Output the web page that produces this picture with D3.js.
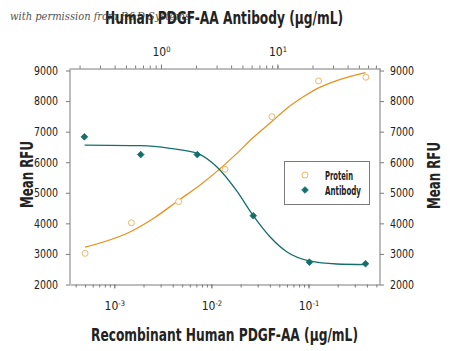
<!DOCTYPE html>
<html>
<head>
<meta charset="utf-8">
<script src="https://cdn.jsdelivr.net/npm/d3@7"></script>
<style>
  body { margin: 0; background: #fff; }
  svg { display: block; }
  .cond { font-family: "Liberation Sans Narrow", "DejaVu Sans Condensed", "Roboto", sans-serif; }
</style>
</head>
<body>
<script>
// protein dose (bottom axis, ug/mL) and mean RFU
var proteinConc = [0.0005, 0.0015, 0.0046, 0.0138, 0.042, 0.127, 0.39];
var proteinRFU = [3020, 4020, 4710, 5770, 7490, 8660, 8780];
// antibody dose (top axis, ug/mL) and mean RFU
var antibodyConc = [0.22, 0.67, 2.05, 6.2, 18.8, 57];
var antibodyRFU = [6830, 6250, 6250, 4250, 2730, 2680];
// fitted curves
var proteinFitConc = [0.0005, 0.00152, 0.00264, 0.00458, 0.00766, 0.0123, 0.0183, 0.0271, 0.0419, 0.0597, 0.0885, 0.127, 0.195, 0.387];
var proteinFitRFU = [3220, 3750, 4200, 4750, 5255, 5790, 6290, 6815, 7330, 7760, 8140, 8430, 8670, 8930];
var antibodyFitConc = [0.221, 0.67, 1.19, 2.05, 3.01, 4.47, 6.2, 8.62, 12.0, 18.8, 32.2, 57.1];
var antibodyFitRFU = [6560, 6540, 6455, 6290, 5850, 5060, 4250, 3560, 3070, 2770, 2670, 2650];
var yTicks = [2000, 3000, 4000, 5000, 6000, 7000, 8000, 9000];
var bottomMajor = [0.001, 0.01, 0.1];
var topMajor = [1, 10];
var legendNames = ["Protein", "Antibody"];
var legendWidths = [28, 36];

var width = 450, height = 351;
var orange = "#e8921e", orangeLight = "#f2b669", teal = "#137069", axisColor = "#7a7a7a";

var svg = d3.select("body").append("svg")
    .attr("width", width)
    .attr("height", height);

var xBottom = d3.scaleLog().domain([0.00035, 0.545]).range([70, 380]);
var xTop = d3.scaleLog().domain([0.1656, 75.9]).range([70, 380]);
var y = d3.scaleLinear().domain([2000, 9000]).range([284.5, 70.5]);

var top0 = 68.5, bottom0 = 284.5;

function fitText(sel, len) {
    sel.attr("textLength", len).attr("lengthAdjust", "spacingAndGlyphs");
}

function powLabel(sel) {
    sel.each(function(d) {
        var t = d3.select(this);
        var e = Math.round(Math.log10(d));
        t.text("");
        t.append("tspan").text("10");
        t.append("tspan").attr("dy", "-0.5em").attr("font-size", "7.5px").text(e);
    });
}

function styleAxis(g) {
    g.selectAll("path, line").attr("stroke", axisColor);
    g.selectAll("text").attr("fill", "#222").attr("class", "cond").attr("font-size", "12px");
}

// bottom axis (protein)
svg.append("g")
    .attr("transform", "translate(0," + bottom0 + ")")
    .call(d3.axisBottom(xBottom).tickValues(xBottom.ticks()).tickSize(3).tickSizeOuter(0).tickFormat(""))
    .call(styleAxis);
svg.append("g")
    .attr("transform", "translate(0," + bottom0 + ")")
    .call(d3.axisBottom(xBottom).tickValues(bottomMajor).tickSize(4).tickPadding(13).tickSizeOuter(0))
    .call(g => g.select(".domain").remove())
    .call(styleAxis)
    .call(g => g.selectAll(".tick text").call(powLabel));

// top axis (antibody)
svg.append("g")
    .attr("transform", "translate(0," + top0 + ")")
    .call(d3.axisTop(xTop).tickValues(xTop.ticks()).tickSize(3).tickSizeOuter(0).tickFormat(""))
    .call(styleAxis);
svg.append("g")
    .attr("transform", "translate(0," + top0 + ")")
    .call(d3.axisTop(xTop).tickValues(topMajor).tickSize(4).tickPadding(9).tickSizeOuter(0))
    .call(g => g.select(".domain").remove())
    .call(styleAxis)
    .call(g => g.selectAll(".tick text").call(powLabel));

// left and right y axes
svg.append("g")
    .attr("transform", "translate(70,0)")
    .call(d3.axisLeft(y).tickValues(yTicks).tickSize(4).tickPadding(8).tickSizeOuter(0).tickFormat(d3.format("d")))
    .call(g => g.select(".domain").attr("d", "M0," + top0 + "V" + bottom0))
    .call(styleAxis)
    .call(g => g.selectAll(".tick text").call(fitText, 24));
svg.append("g")
    .attr("transform", "translate(380,0)")
    .call(d3.axisRight(y).tickValues(yTicks).tickSize(4).tickPadding(6).tickSizeOuter(0).tickFormat(d3.format("d")))
    .call(g => g.select(".domain").attr("d", "M0," + top0 + "V" + bottom0))
    .call(styleAxis)
    .call(g => g.selectAll(".tick text").call(fitText, 24));

// fitted curves
var proteinLine = d3.line()
    .x((d, i) => xBottom(proteinFitConc[i]))
    .y(d => y(d))
    .curve(d3.curveMonotoneX);
var antibodyLine = d3.line()
    .x((d, i) => xTop(antibodyFitConc[i]))
    .y(d => y(d))
    .curve(d3.curveMonotoneX);

svg.append("path")
    .attr("d", proteinLine(proteinFitRFU))
    .attr("fill", "none")
    .attr("stroke", orange)
    .attr("stroke-width", 1.3);
svg.append("path")
    .attr("d", antibodyLine(antibodyFitRFU))
    .attr("fill", "none")
    .attr("stroke", teal)
    .attr("stroke-width", 1.3);

// points
svg.append("g").selectAll("circle")
    .data(proteinRFU)
    .join("circle")
        .attr("cx", (d, i) => xBottom(proteinConc[i]))
        .attr("cy", d => y(d))
        .attr("r", 3)
        .attr("fill", "#fff")
        .attr("stroke", orangeLight)
        .attr("stroke-width", 1);

var diamond = d3.symbol().type(d3.symbolSquare).size(22);
svg.append("g").selectAll("path")
    .data(antibodyRFU)
    .join("path")
        .attr("d", diamond)
        .attr("transform", (d, i) => "translate(" + xTop(antibodyConc[i]) + "," + y(d) + ") rotate(45)")
        .attr("fill", teal)
        .attr("stroke", teal)
        .attr("stroke-width", 0.8);

// legend
var legend = svg.append("g");
legend.append("rect")
    .attr("x", 284.5).attr("y", 161.5)
    .attr("width", 85).attr("height", 43)
    .attr("fill", "#fff")
    .attr("stroke", axisColor);
legend.append("circle")
    .attr("cx", 305).attr("cy", 175).attr("r", 3)
    .attr("fill", "#fff").attr("stroke", orangeLight);
legend.append("path")
    .attr("d", diamond)
    .attr("transform", "translate(305,190) rotate(45)")
    .attr("fill", teal).attr("stroke", teal).attr("stroke-width", 0.8);
legend.selectAll("text")
    .data(legendNames)
    .join("text")
        .attr("class", "cond")
        .attr("x", 325)
        .attr("y", (d, i) => 179.5 + i * 15)
        .attr("font-size", "12.5px")
        .attr("font-weight", "bold")
        .attr("fill", "#222")
        .text(d => d)
        .each(function(d, i) { d3.select(this).call(fitText, legendWidths[i]); });

// titles
svg.append("text")
    .attr("class", "cond")
    .attr("x", 105).attr("y", 24)
    .attr("font-size", "18px").attr("font-weight", "bold").attr("fill", "#222")
    .text("Human PDGF-AA Antibody (\u03bcg/mL)")
    .call(fitText, 238);
svg.append("text")
    .attr("class", "cond")
    .attr("x", 91).attr("y", 341)
    .attr("font-size", "18px").attr("font-weight", "bold").attr("fill", "#222")
    .text("Recombinant Human PDGF-AA (\u03bcg/mL)")
    .call(fitText, 267);
svg.append("text")
    .attr("class", "cond")
    .attr("transform", "translate(33,208) rotate(-90)")
    .attr("font-size", "18px").attr("font-weight", "bold").attr("fill", "#222")
    .text("Mean RFU")
    .call(fitText, 67);
svg.append("text")
    .attr("class", "cond")
    .attr("transform", "translate(440,209) rotate(-90)")
    .attr("font-size", "18px").attr("font-weight", "bold").attr("fill", "#222")
    .text("Mean RFU")
    .call(fitText, 67);

// watermark
svg.append("text")
    .attr("x", 10).attr("y", 20)
    .attr("font-family", "'DejaVu Serif', serif")
    .attr("font-style", "italic")
    .attr("font-size", "10.5px")
    .attr("fill", "#333")
    .attr("opacity", 0.85)
    .text("with permission from R&D Systems")
    .call(fitText, 180);
</script>
</body>
</html>
